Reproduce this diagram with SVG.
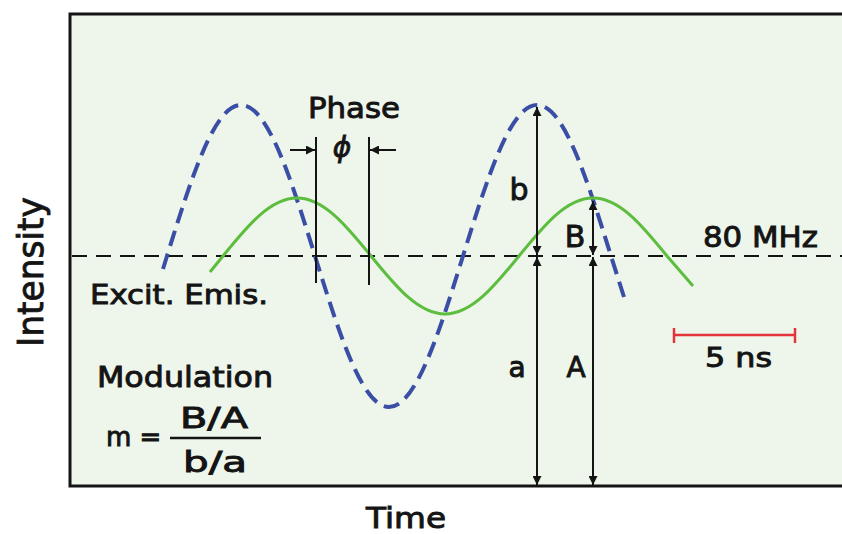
<svg xmlns="http://www.w3.org/2000/svg" width="842" height="534" viewBox="0 0 842 534">
<style>
.t{font-family:"DejaVu Sans","Liberation Sans",sans-serif;fill:#141414;stroke:#141414;stroke-width:0.9}
.ln{stroke:#141414;stroke-width:2;fill:none}
.ar{stroke:#141414;stroke-width:2;fill:none;marker-start:url(#ah);marker-end:url(#ah)}
</style>
<defs>
<marker id="ah" viewBox="0 0 10 10" refX="10" refY="5" markerWidth="10" markerHeight="9" markerUnits="userSpaceOnUse" orient="auto-start-reverse">
<path d="M0,0 L10,5 L0,10 z" fill="#141414"/>
</marker>
<marker id="ah1" viewBox="0 0 10 10" refX="10" refY="5" markerWidth="10" markerHeight="9" markerUnits="userSpaceOnUse" orient="auto">
<path d="M0,0 L10,5 L0,10 z" fill="#141414"/>
</marker>
</defs>
<rect width="842" height="534" fill="#ffffff"/>
<g id="plot-area">
<rect x="70" y="14" width="772" height="472" fill="#eef5ea"/>
<path d="M842,14 H70 V486 H842" fill="none" stroke="#141414" stroke-width="3"/>
</g>
<g id="baseline">
<line x1="72" y1="256" x2="842" y2="256" stroke="#141414" stroke-width="2" stroke-dasharray="15 9"/>
</g>
<g id="excitation">
<path d="M163,269 L167,256 C191.7,176.7 214.4,105 241,105 C267.6,105 290.3,176.7 315,256 C339.7,335.3 362.4,407 389,407 C415.6,407 438.3,335.3 463,256 C487.7,176.7 510.4,105 537,105 C563.6,105 586.3,176.7 611,256 L624,297" fill="none" stroke="#3a4ea6" stroke-width="4" stroke-dasharray="16 8"/>
</g>
<g id="emission">
<path d="M210,272 L223,256 C247.7,225.5 270.4,198 297,198 C323.6,198 346.3,225.5 371,256 C395.7,286.5 418.4,314 445,314 C471.6,314 494.3,286.5 519,256 C543.7,225.5 566.4,198 593,198 C619.6,198 642.3,225.5 667,256 L693,286" fill="none" stroke="#5cbd3e" stroke-width="3"/>
</g>
<g id="connectors">
<line class="ln" x1="316" y1="137" x2="316" y2="283"/>
<line class="ln" x1="369" y1="137" x2="369" y2="285"/>
<line class="ln" x1="290" y1="150" x2="315" y2="150" marker-end="url(#ah1)"/>
<line class="ln" x1="396" y1="150" x2="370" y2="150" marker-end="url(#ah1)"/>
<line class="ar" x1="537" y1="107" x2="537" y2="255"/>
<line class="ar" x1="537" y1="257" x2="537" y2="485"/>
<line class="ar" x1="593" y1="201" x2="593" y2="255"/>
<line class="ar" x1="593" y1="257" x2="593" y2="485"/>
</g>
<g id="scale-bar">
<line x1="674" y1="335" x2="795" y2="335" stroke="#e3343a" stroke-width="2.5"/>
<line x1="674" y1="328" x2="674" y2="343" stroke="#e3343a" stroke-width="2.5"/>
<line x1="795" y1="328" x2="795" y2="343" stroke="#e3343a" stroke-width="2.5"/>
<text class="t" x="705" y="367" font-size="26" textLength="67" lengthAdjust="spacingAndGlyphs">5 ns</text>
</g>
<g id="labels">
<text class="t" x="308" y="118" font-size="28" textLength="92" lengthAdjust="spacingAndGlyphs">Phase</text>
<text class="t" x="342" y="157" font-size="28" font-style="italic" text-anchor="middle">ϕ</text>
<text class="t" x="519" y="200" font-size="30" text-anchor="middle">b</text>
<text class="t" x="575" y="247" font-size="30" text-anchor="middle">B</text>
<text class="t" x="517" y="377" font-size="28" text-anchor="middle">a</text>
<text class="t" x="576" y="377" font-size="28" text-anchor="middle">A</text>
<text class="t" x="703" y="247" font-size="28" textLength="115" lengthAdjust="spacingAndGlyphs">80 MHz</text>
<text class="t" x="90" y="304" font-size="27" textLength="178" lengthAdjust="spacingAndGlyphs">Excit. Emis.</text>
<text class="t" x="97" y="387" font-size="28" textLength="176" lengthAdjust="spacingAndGlyphs">Modulation</text>
<text class="t" x="106" y="446" font-size="26">m =</text>
<text class="t" x="180" y="428" font-size="28" textLength="68" lengthAdjust="spacingAndGlyphs">B/A</text>
<line x1="170" y1="438" x2="261" y2="438" stroke="#141414" stroke-width="2.5"/>
<text class="t" x="183" y="472" font-size="28" textLength="64" lengthAdjust="spacingAndGlyphs">b/a</text>
<text class="t" x="366" y="528" font-size="28" textLength="80" lengthAdjust="spacingAndGlyphs">Time</text>
<text class="t" transform="translate(43,272) rotate(-90)" x="0" y="0" font-size="36" text-anchor="middle" textLength="150" lengthAdjust="spacingAndGlyphs">Intensity</text>
</g>
</svg>
